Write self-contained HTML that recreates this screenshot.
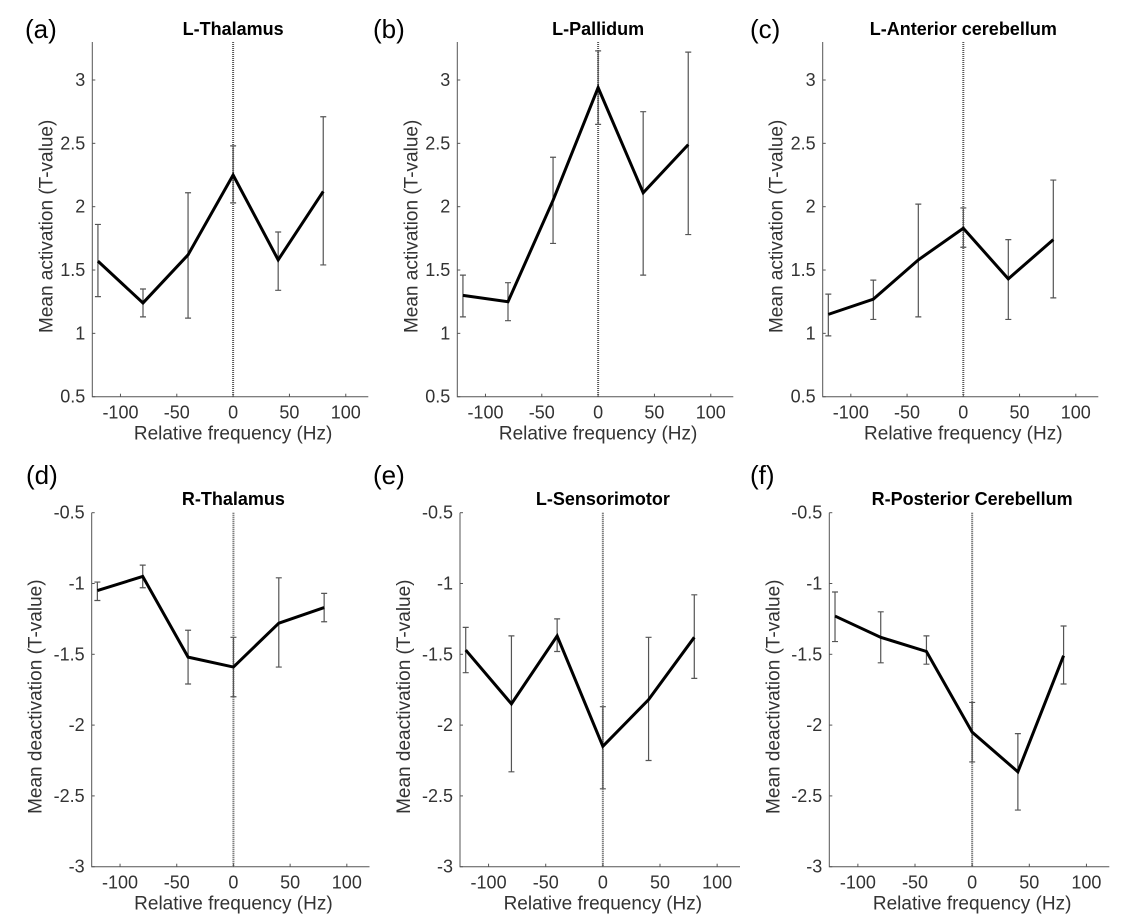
<!DOCTYPE html>
<html><head><meta charset="utf-8">
<style>
html,body{margin:0;padding:0;background:#fff;}
svg{display:block;}
</style></head>
<body>
<svg id="fig" width="1144" height="915" viewBox="0 0 1144 915" xmlns="http://www.w3.org/2000/svg"></svg>
<script>
const freqs = [-120, -80, -40, 0, 40, 80];
const xTicks = [-100, -50, 0, 50, 100];
const topTicks = [0.5, 1, 1.5, 2, 2.5, 3];
const topTickLabels = ["0.5", "1", "1.5", "2", "2.5", "3"];
const botTicks = [-3, -2.5, -2, -1.5, -1, -0.5];
const botTickLabels = ["-3", "-2.5", "-2", "-1.5", "-1", "-0.5"];

const meanA = [1.57, 1.24, 1.62, 2.25, 1.58, 2.12];
const loA = [1.29, 1.13, 1.12, 2.03, 1.34, 1.54];
const hiA = [1.86, 1.35, 2.11, 2.48, 1.80, 2.71];

const meanB = [1.30, 1.25, 2.05, 2.94, 2.11, 2.49];
const loB = [1.13, 1.10, 1.71, 2.65, 1.46, 1.78];
const hiB = [1.46, 1.40, 2.39, 3.23, 2.75, 3.22];

const meanC = [1.15, 1.27, 1.58, 1.83, 1.43, 1.74];
const loC = [0.98, 1.11, 1.13, 1.68, 1.11, 1.28];
const hiC = [1.31, 1.42, 2.02, 1.99, 1.74, 2.21];

const meanD = [-1.05, -0.95, -1.52, -1.59, -1.28, -1.17];
const loD = [-1.12, -1.03, -1.71, -1.80, -1.59, -1.27];
const hiD = [-0.99, -0.87, -1.33, -1.38, -0.96, -1.07];

const meanE = [-1.47, -1.85, -1.37, -2.15, -1.82, -1.38];
const loE = [-1.63, -2.33, -1.48, -2.45, -2.25, -1.67];
const hiE = [-1.31, -1.37, -1.25, -1.87, -1.38, -1.08];

const meanF = [-1.23, -1.38, -1.48, -2.05, -2.33, -1.51];
const loF = [-1.41, -1.56, -1.57, -2.26, -2.60, -1.71];
const hiF = [-1.06, -1.20, -1.37, -1.84, -2.06, -1.30];

const NS = "http://www.w3.org/2000/svg";
const svg = document.getElementById("fig");
function mk(tag, attrs, parent, text){
  const e = document.createElementNS(NS, tag);
  for (const k in attrs) e.setAttribute(k, attrs[k]);
  if (text !== undefined) e.textContent = text;
  (parent || svg).appendChild(e);
  return e;
}

const panels = [
  {id:"a", label:"(a)", title:"L-Thalamus", left:92.3, right:368.3, top:42, bottom:396.7, ymin:0.5, ymax:3.3, ticks:topTicks, tl:topTickLabels, ylab:"Mean activation (T-value)", mean:meanA, lo:loA, hi:hiA, lx:25, ly:38, ty:35, yo:40},
  {id:"b", label:"(b)", title:"L-Pallidum", left:457.3, right:733.3, top:42, bottom:396.7, ymin:0.5, ymax:3.3, ticks:topTicks, tl:topTickLabels, ylab:"Mean activation (T-value)", mean:meanB, lo:loB, hi:hiB, lx:373, ly:38, ty:35, yo:40},
  {id:"c", label:"(c)", title:"L-Anterior cerebellum", left:822.7, right:1098.3, top:42, bottom:396.7, ymin:0.5, ymax:3.3, ticks:topTicks, tl:topTickLabels, ylab:"Mean activation (T-value)", mean:meanC, lo:loC, hi:hiC, lx:750, ly:38, ty:35, yo:40},
  {id:"d", label:"(d)", title:"R-Thalamus", left:91.7, right:369.5, top:512.7, bottom:866.7, ymin:-3, ymax:-0.5, ticks:botTicks, tl:botTickLabels, ylab:"Mean deactivation (T-value)", mean:meanD, lo:loD, hi:hiD, lx:26, ly:484, ty:505, yo:50},
  {id:"e", label:"(e)", title:"L-Sensorimotor", left:460, right:740, top:512.7, bottom:866.7, ymin:-3, ymax:-0.5, ticks:botTicks, tl:botTickLabels, ylab:"Mean deactivation (T-value)", mean:meanE, lo:loE, hi:hiE, lx:373, ly:484, ty:505, yo:50},
  {id:"f", label:"(f)", title:"R-Posterior Cerebellum", left:829.3, right:1109.3, top:512.7, bottom:866.7, ymin:-3, ymax:-0.5, ticks:botTicks, tl:botTickLabels, ylab:"Mean deactivation (T-value)", mean:meanF, lo:loF, hi:hiF, lx:750, ly:484, ty:505, yo:50}
];

const XMIN = -125, XMAX = 120;
panels.forEach(p => {
  const g = mk("g", {}, svg);
  
  
  const xs = v => p.left + (v - XMIN) / (XMAX - XMIN) * (p.right - p.left);
  const ys = v => p.bottom - (v - p.ymin) / (p.ymax - p.ymin) * (p.bottom - p.top);
  const cx = xs(0);

  const pl = mk("text", {x:p.lx, y:p.ly, "font-family":"Liberation Sans, sans-serif", "font-size":"26", fill:"#000"}, g, p.label);
  
  

  const t = mk("text", {x:cx, y:p.ty, "text-anchor":"middle", "font-family":"Liberation Sans, sans-serif", "font-size":"18", "font-weight":"bold", fill:"#000"}, g, p.title);
  
  

  const ax = mk("path", {d:`M${p.left},${p.top}V${p.bottom}H${p.right}`, stroke:"#555", "stroke-width":"1", fill:"none"}, g);
  
  

  p.ticks.forEach((v, i) => {
    const y = ys(v);
    const tk = mk("line", {x1:p.left, x2:p.left + 3, y1:y, y2:y, stroke:"#555"}, g);
    
    
    const tl = mk("text", {x:p.left - 7, y:y + 6, "text-anchor":"end", "font-family":"Liberation Sans, sans-serif", "font-size":"18", fill:"#333"}, g, p.tl[i]);
    
    
  });
  xTicks.forEach(v => {
    const x = xs(v);
    const tk = mk("line", {x1:x, x2:x, y1:p.bottom, y2:p.bottom - 3, stroke:"#555"}, g);
    
    
    const tl = mk("text", {x:x, y:p.bottom + 22, "text-anchor":"middle", "font-family":"Liberation Sans, sans-serif", "font-size":"18", fill:"#333"}, g, String(v));
    
    
  });

  const xl = mk("text", {x:cx, y:p.bottom + 43, "text-anchor":"middle", "font-family":"Liberation Sans, sans-serif", "font-size":"19", fill:"#333"}, g, "Relative frequency (Hz)");
  
  
  const ymid = (p.top + p.bottom) / 2 + 7;
  const ylx = p.left - p.yo;
  const yl = mk("text", {x:ylx, y:ymid, "text-anchor":"middle", "font-family":"Liberation Sans, sans-serif", "font-size":"19", fill:"#333", transform:`rotate(-90 ${ylx} ${ymid})`}, g, p.ylab);
  
  

  const zl = mk("line", {x1:cx, x2:cx, y1:p.top, y2:p.bottom, stroke:"#555", "stroke-width":"2", "stroke-dasharray":"1,1"}, g);
  
  

  freqs.forEach((f, i) => {
    const x = xs(f), y1 = ys(p.lo[i]), y2 = ys(p.hi[i]);
    const eb = mk("path", {d:`M${x},${y1}V${y2}M${x-3},${y1}H${x+3}M${x-3},${y2}H${x+3}`, stroke:"#555", "stroke-width":"1.2", fill:"none"}, g);
    
    
  });

  const pts = freqs.map((f, i) => xs(f) + "," + ys(p.mean[i])).join(" ");
  const ln = mk("polyline", {points:pts, stroke:"#000", "stroke-width":"3", fill:"none", "stroke-linejoin":"miter"}, g);
  
  
});
</script>
</body></html>
